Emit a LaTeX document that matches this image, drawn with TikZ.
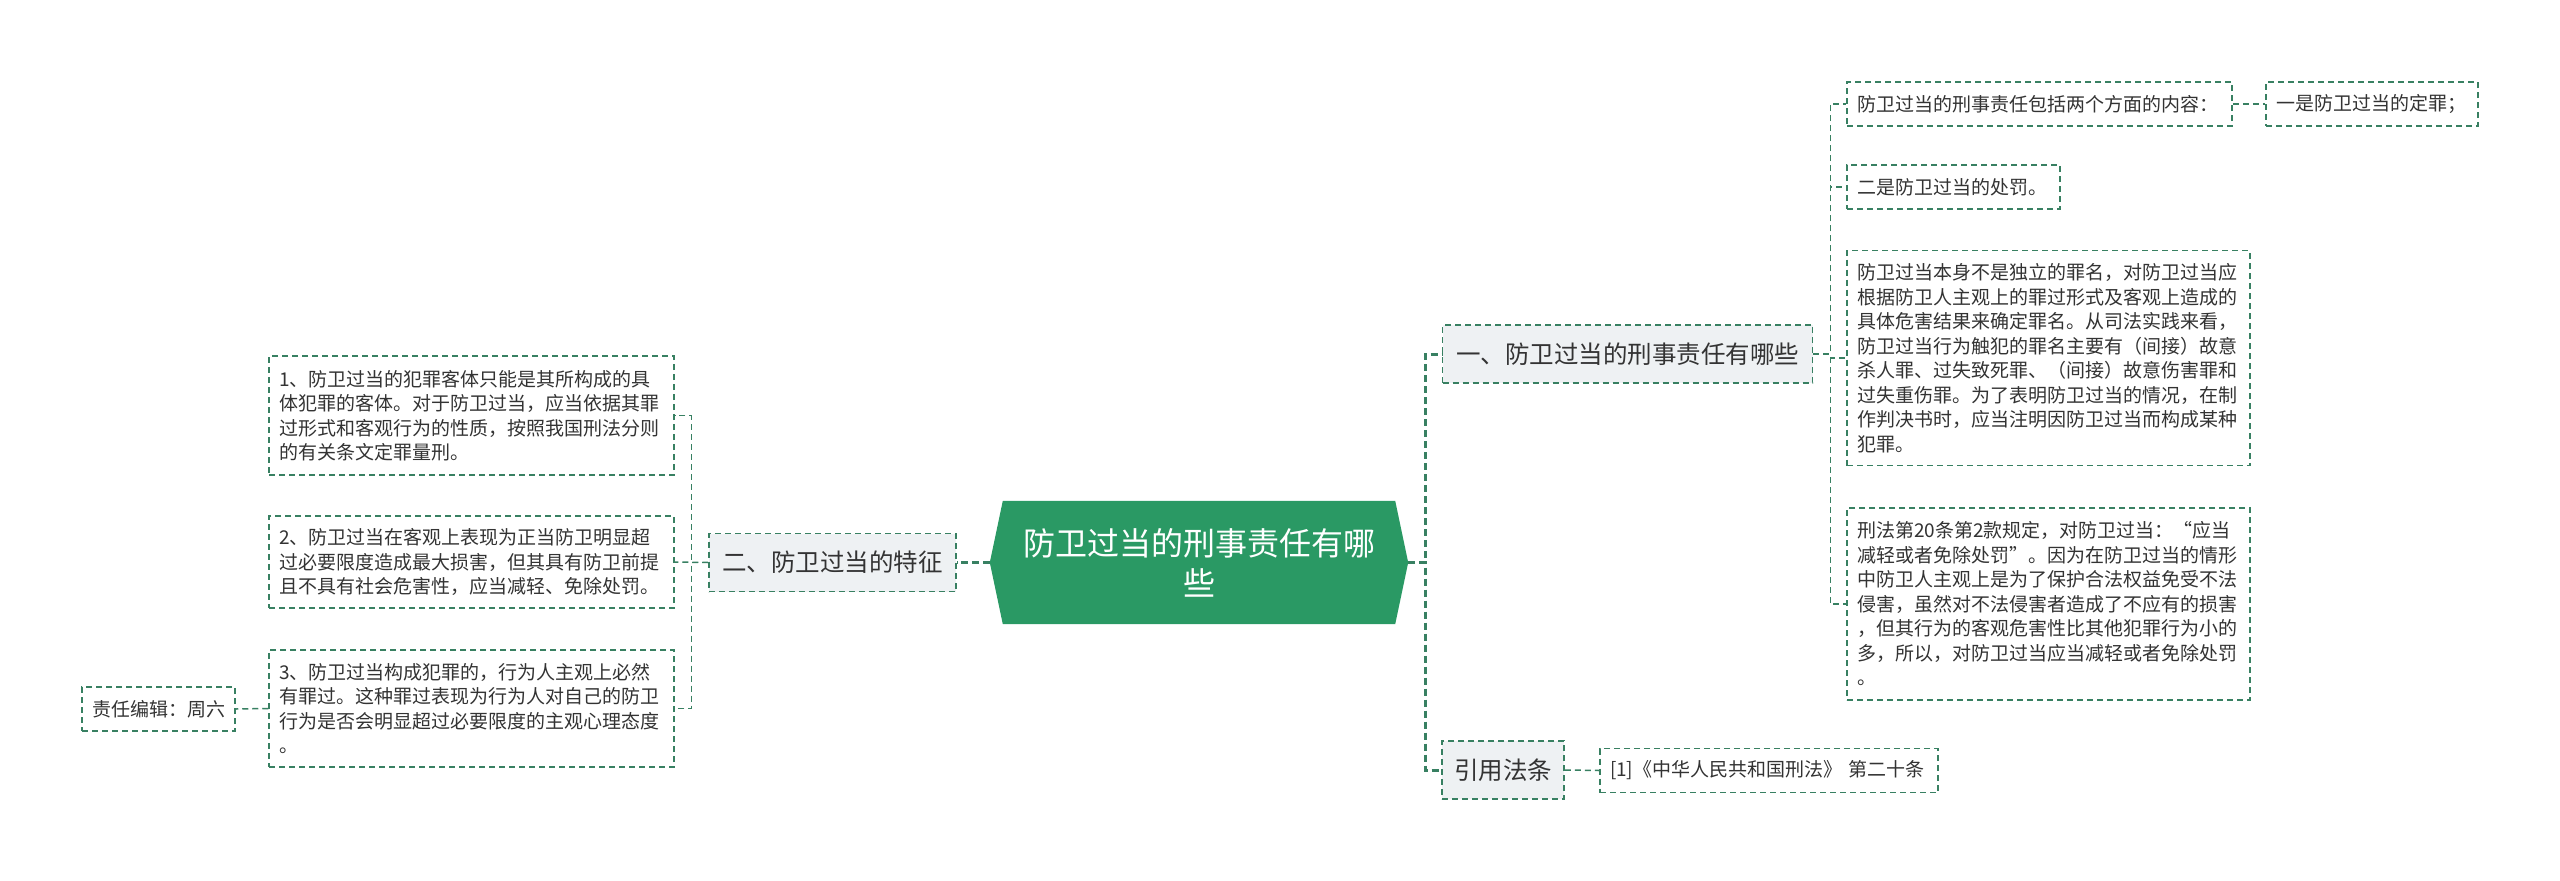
\documentclass[tikz,border=0pt]{standalone}
\usepackage{fontspec}
\setmainfont{Noto Sans CJK SC}
\usetikzlibrary{backgrounds}
\definecolor{dgreen}{RGB}{56,128,98}
\definecolor{rootgreen}{RGB}{42,153,100}
\definecolor{lvlfill}{RGB}{238,241,243}
\definecolor{txt}{RGB}{51,51,51}
\begin{document}
\begin{tikzpicture}[x=1pt,y=-1pt,
 box/.style={draw=dgreen, line width=1.5pt, dash pattern=on 6pt off 4pt, text=txt, inner ysep=0pt},
 leaf/.style={box, fill=white, font=\fontsize{19}{24.5}\selectfont, align=left, inner xsep=10pt},
 lvl/.style={box, fill=lvlfill, font=\fontsize{24.5}{30}\selectfont, inner xsep=0pt, minimum height=58pt},
 thinc/.style={draw=dgreen, line width=1.5pt, dash pattern=on 6pt off 4pt},
 thickc/.style={draw=dgreen, line width=3pt, dash pattern=on 7pt off 4pt},
]
\useasboundingbox (0,0) rectangle (2560,881);

% root
\node[text=white, font=\fontsize{32}{40}\selectfont, align=center, minimum width=418pt, minimum height=123pt, inner sep=0pt] (root) at (1199,562.5) {防卫过当的刑事责任有哪\\些};
\begin{scope}[on background layer]
\fill[rootgreen] ([xshift=13pt]root.north west) -- ([xshift=-13pt]root.north east) -- (root.east) -- ([xshift=-13pt]root.south east) -- ([xshift=13pt]root.south west) -- (root.west) -- cycle;
\end{scope}

% level 1
\node[lvl, minimum width=247pt] (n2) at (832.5,562.5) {二、防卫过当的特征};
\node[lvl, minimum width=370pt] (n1) at (1627.5,354) {一、防卫过当的刑事责任有哪些};
\node[lvl, minimum width=122pt] (n3) at (1503,770) {引用法条};

% left leaves
\node[leaf, text width=385pt, minimum height=119pt] (c1) at (471.5,415.5) {1、防卫过当的犯罪客体只能是其所构成的具\\体犯罪的客体。对于防卫过当，应当依据其罪\\过形式和客观行为的性质，按照我国刑法分则\\的有关条文定罪量刑。};
\node[leaf, text width=385pt, minimum height=92pt] (c2) at (471.5,562) {2、防卫过当在客观上表现为正当防卫明显超\\过必要限度造成最大损害，但其具有防卫前提\\且不具有社会危害性，应当减轻、免除处罚。};
\node[leaf, text width=385pt, minimum height=117pt] (c3) at (471.5,708.5) {3、防卫过当构成犯罪的，行为人主观上必然\\有罪过。这种罪过表现为行为人对自己的防卫\\行为是否会明显超过必要限度的主观心理态度\\。};
\node[leaf, text width=133pt, minimum height=44pt] (ed) at (158.5,709) {责任编辑：周六};

% right leaves
\node[leaf, text width=365pt, minimum height=44pt] (A) at (2039.5,104) {防卫过当的刑事责任包括两个方面的内容：};
\node[leaf, text width=192pt, minimum height=44pt] (B) at (2372,104) {一是防卫过当的定罪；};
\node[leaf, text width=193pt, minimum height=44pt] (C) at (1953.5,187) {二是防卫过当的处罚。};
\node[leaf, text width=383pt, minimum height=215pt] (L1) at (2048.5,358) {防卫过当本身不是独立的罪名，对防卫过当应\\根据防卫人主观上的罪过形式及客观上造成的\\具体危害结果来确定罪名。从司法实践来看，\\防卫过当行为触犯的罪名主要有（间接）故意\\杀人罪、过失致死罪、（间接）故意伤害罪和\\过失重伤罪。为了表明防卫过当的情况，在制\\作判决书时，应当注明因防卫过当而构成某种\\犯罪。};
\node[leaf, text width=383pt, minimum height=192pt] (L2) at (2048.5,604) {刑法第20条第2款规定，对防卫过当：“应当\\减轻或者免除处罚”。因为在防卫过当的情形\\中防卫人主观上是为了保护合法权益免受不法\\侵害，虽然对不法侵害者造成了不应有的损害\\，但其行为的客观危害性比其他犯罪行为小的\\多，所以，对防卫过当应当减轻或者免除处罚\\。};
\node[leaf, text width=318pt, minimum height=44pt] (ref) at (1769,770.5) {[1]《中华人民共和国刑法》 第二十条};

% connectors from root
\draw[thickc] (root.west) -- (n2.east);
\draw[thickc] (root.east) -- ++(17,0) |- (n1.west);
\draw[thickc] (root.east) -- ++(17,0) |- (n3.west);

% left
\draw[thinc] (n2.west) -- ++(-17,0) |- (c1.east);
\draw[thinc] (n2.west) -- (c2.east);
\draw[thinc] (n2.west) -- ++(-17,0) |- (c3.east);
\draw[thinc] (c3.west) -- (ed.east);

% right
\draw[thinc] (n1.east) -- ++(17,0) |- (A.west);
\draw[thinc] (n1.east) -- ++(17,0) |- (C.west);
\draw[thinc] (n1.east) -- ++(17,0) |- (L1.west);
\draw[thinc] (n1.east) -- ++(17,0) |- (L2.west);
\draw[thinc] (A.east) -- (B.west);
\draw[thinc] (n3.east) -- (ref.west);
\end{tikzpicture}
\end{document}
